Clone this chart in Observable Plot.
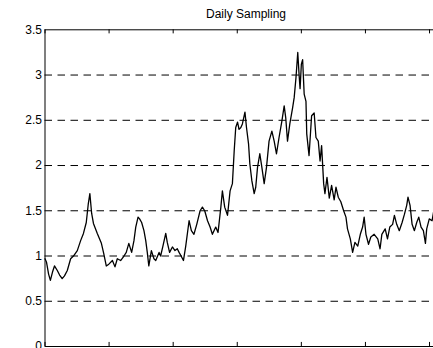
<!DOCTYPE html>
<html>
<head>
<meta charset="utf-8">
<script src="https://cdn.jsdelivr.net/npm/d3@7"></script>
<script src="https://cdn.jsdelivr.net/npm/@observablehq/plot@0.6"></script>
<style>
  html, body { margin: 0; padding: 0; background: #fff; }
  #wrap { position: relative; width: 433px; height: 348px; overflow: hidden; }
  #title {
    position: absolute; left: 44.5px; width: 403px; top: 7px;
    text-align: center; font: 12px "Liberation Sans", Arial, sans-serif; color: #000;
    line-height: 14px;
  }
  svg { display: block; max-width: none !important; }
</style>
</head>
<body>
<div id="wrap">
  <div id="chart"></div>
  <div id="title">Daily Sampling</div>
</div>
<script>
// Sample day (index into the daily series) and the sampled value
const days = [0, 6, 14, 21, 29, 37, 48, 57, 67, 76, 87, 100, 111, 126, 139, 150, 161, 169, 175, 182,
  189, 204, 220, 229, 239, 249, 263, 273, 282, 295, 308, 317, 327, 338, 347, 354, 363, 369, 377, 386,
  393, 399, 405, 415, 425, 432, 445, 451, 460, 471, 477, 486, 497, 507, 516, 523, 531, 540, 549, 562,
  571, 581, 592, 605, 614, 623, 634, 644, 653, 666, 675, 686, 692, 701, 712, 722, 731, 738, 744, 751,
  757, 764, 770, 780, 786, 794, 799, 807, 816, 822, 829, 838, 846, 855, 864, 874, 885, 894, 903, 913,
  924, 933, 939, 946, 955, 966, 972, 979, 986, 991, 995, 1000, 1005, 1011, 1018, 1021, 1030, 1040, 1050, 1057,
  1066, 1073, 1079, 1087, 1092, 1100, 1109, 1118, 1128, 1135, 1144, 1154, 1165, 1174, 1180, 1191, 1200, 1209, 1220, 1230,
  1239, 1245, 1252, 1262, 1271, 1284, 1298, 1307, 1314, 1327, 1336, 1345, 1356, 1363, 1372, 1382, 1393, 1402, 1411, 1416,
  1424, 1432, 1441, 1450, 1458, 1467, 1476, 1484, 1489, 1499, 1510, 1519];
const values = [0.97, 0.93, 0.80, 0.73, 0.82, 0.89, 0.84, 0.79, 0.75, 0.78, 0.84, 0.97, 1.00, 1.06, 1.17, 1.25, 1.37, 1.58, 1.69, 1.47,
  1.36, 1.25, 1.14, 1.03, 0.89, 0.91, 0.95, 0.88, 0.97, 0.95, 1.00, 1.04, 1.14, 1.04, 1.17, 1.32, 1.43, 1.41, 1.37, 1.28,
  1.17, 1.04, 0.89, 1.06, 0.97, 0.95, 1.04, 1.00, 1.11, 1.25, 1.15, 1.04, 1.10, 1.06, 1.08, 1.04, 1.00, 0.95, 1.11, 1.39,
  1.28, 1.24, 1.35, 1.50, 1.54, 1.50, 1.39, 1.32, 1.24, 1.32, 1.26, 1.54, 1.72, 1.54, 1.45, 1.72, 1.80, 2.16, 2.42, 2.48,
  2.40, 2.42, 2.46, 2.59, 2.42, 2.24, 2.02, 1.83, 1.69, 1.76, 1.98, 2.13, 1.98, 1.80, 1.98, 2.27, 2.38, 2.27, 2.13, 2.31,
  2.49, 2.66, 2.53, 2.27, 2.46, 2.64, 2.75, 2.97, 3.25, 3.01, 2.85, 3.12, 3.17, 2.79, 2.71, 2.35, 2.11, 2.55, 2.58, 2.31,
  2.27, 2.05, 2.22, 1.80, 1.69, 1.87, 1.64, 1.78, 1.62, 1.76, 1.65, 1.60, 1.50, 1.43, 1.30, 1.19, 1.04, 1.15, 1.11, 1.24,
  1.32, 1.43, 1.24, 1.13, 1.21, 1.24, 1.19, 1.08, 1.24, 1.30, 1.19, 1.32, 1.35, 1.45, 1.35, 1.28, 1.37, 1.46, 1.56, 1.65,
  1.56, 1.35, 1.28, 1.37, 1.43, 1.32, 1.28, 1.14, 1.30, 1.41, 1.39, 1.54];

const yTicks = [0, 0.5, 1, 1.5, 2, 2.5, 3, 3.5];
const xTicks = [0, 250, 500, 750, 1000, 1250, 1500];
const xDomain = [0, 1574];
const yDomain = [0, 3.5];

const series = days.map((d, i) => ({day: d, value: values[i]}));
const tickLen = 0.045; // inward tick length, in value units

const chart = Plot.plot({
  width: 448,
  height: 348,
  marginLeft: 44.5,
  marginRight: 0,
  marginTop: 29.3,
  marginBottom: 2,
  style: {fontFamily: "'Liberation Sans', Arial, sans-serif", fontSize: "12px", background: "#fff", maxWidth: "none"},
  x: {domain: xDomain, axis: null},
  y: {domain: yDomain, axis: null},
  marks: [
    Plot.ruleY(yTicks.filter(t => t > 0 && t < 3.5), {
      x1: xDomain[0], x2: xDomain[1], stroke: "#000", strokeWidth: 1, strokeDasharray: "7.5,5.5"
    }),
    Plot.line(series, {x: "day", y: "value", stroke: "#000", strokeWidth: 1.3}),
    // inward ticks on bottom and top edges
    Plot.ruleX(xTicks, {y1: yDomain[0], y2: yDomain[0] + tickLen, stroke: "#000"}),
    Plot.ruleX(xTicks, {y1: yDomain[1] - tickLen, y2: yDomain[1], stroke: "#000"}),
    Plot.axisY(yTicks, {
      anchor: "left", label: null, tickSize: 0, tickPadding: 3, tickFormat: d => String(d),
      fontSize: 12, fill: "#000"
    }),
    Plot.frame({stroke: "#000", strokeWidth: 1})
  ]
});
document.getElementById("chart").appendChild(chart);
</script>
</body>
</html>
